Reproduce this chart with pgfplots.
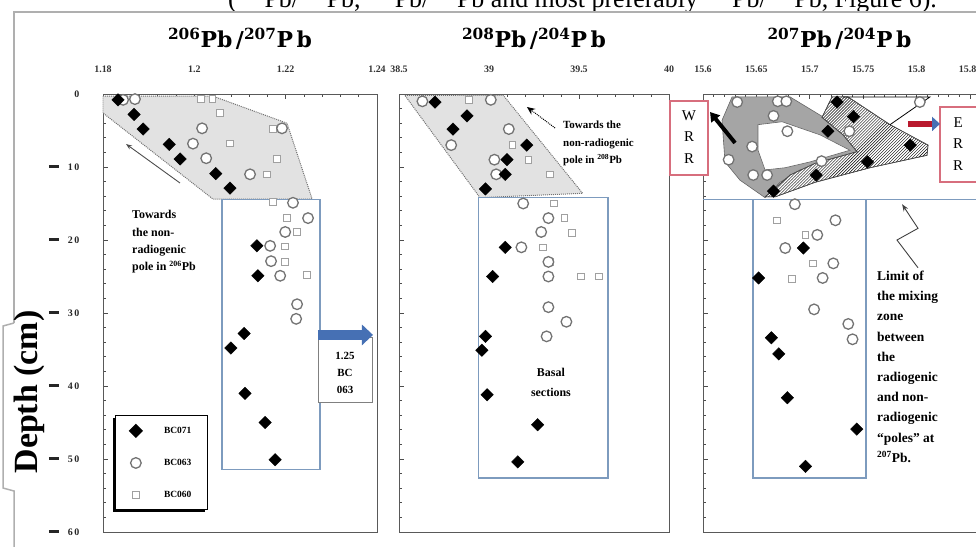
\documentclass[border=0pt]{standalone}
\usepackage{fontspec}
\setmainfont{Liberation Serif}
\newfontfamily\titlefont{DejaVu Serif}
\usepackage{pgfplots}
\pgfplotsset{compat=1.18}
\usetikzlibrary{patterns,arrows.meta,shadows}
\definecolor{boxblue}{RGB}{125,155,190}
\definecolor{arrblue}{RGB}{70,112,180}
\definecolor{pinkbox}{RGB}{215,110,125}
\definecolor{arrred}{RGB}{185,25,45}
\definecolor{ring}{RGB}{115,115,115}
\definecolor{sqc}{RGB}{160,160,160}
\definecolor{framec}{RGB}{175,175,175}
\definecolor{shade}{RGB}{226,226,226}
\definecolor{dkshade}{RGB}{165,165,165}
\newcommand\dl[1]{\rule[2bp]{10bp}{3.5bp}\hspace{9bp}#1}
\pgfplotsset{
 panel/.style={
  scale only axis, anchor=north west, height=438bp,
  y dir=reverse, ymin=0, ymax=60, ytick={0,10,...,60}, minor y tick num=4,
  minor x tick num=4,
  axis line style={black!65, line width=1pt},
  tick align=inside, xtick pos=upper, xticklabel pos=upper, ytick pos=left,
  major tick length=5bp, minor tick length=3bp,
  every tick/.style={black!70, line width=0.7pt},
  /pgf/number format/assume math mode=true,
  /pgf/number format/fixed,
  xticklabel style={font=\fontsize{10}{11}\selectfont\bfseries, text=black!80, yshift=18bp},
  title style={font=\titlefont\fontsize{22}{24}\selectfont\bfseries, anchor=base, at={(0.5,1)}, yshift=41bp},
  clip=false,
 },
 s71/.style={only marks, mark=square*, mark size=4.4bp, mark options={rotate=45, fill=black, draw=black}},
 s63/.style={only marks, mark=*, mark size=5.3bp, mark options={fill=white, draw=ring, line width=1.3pt}},
 s60/.style={only marks, mark=square*, mark size=3.3bp, mark options={fill=white, draw=sqc, line width=0.9pt}},
}
\begin{document}
\begin{tikzpicture}
\useasboundingbox (0,0) rectangle (976bp,-547bp);
\clip (0,0) rectangle (976bp,-547bp);
% cut-off line of text above the figure (as in the reference)
\node[anchor=base west, inner sep=0, font=\fontsize{26}{28}\selectfont] at (228bp,-7bp)
 {(\textsuperscript{206}Pb/\textsuperscript{207}Pb, \textsuperscript{208}Pb/\textsuperscript{204}Pb and most preferably \textsuperscript{207}Pb/\textsuperscript{204}Pb, Figure 6).};
% frame
\draw[framec, line width=1.5bp] (14bp,-323bp) -- (14bp,-12bp) -- (990bp,-12bp);
\draw[framec, line width=1.5bp] (14bp,-560bp) -- (14bp,-491bp) -- (3bp,-488bp) -- (3bp,-326bp) -- (14bp,-323bp);
\node[rotate=90, anchor=base, inner sep=0, font=\fontsize{34}{36}\selectfont\bfseries] at (37bp,-392bp) {Depth (cm)};

% ---------------- panel 1 ----------------
\begin{axis}[panel, at={(103bp,-94bp)}, width=274bp,
  xmin=1.18, xmax=1.24, xtick={1.18,1.2,1.22,1.24},
  yticklabels={0,\dl{1\,0},\dl{2\,0},\dl{3\,0},\dl{4\,0},\dl{5\,0},\dl{6\,0}},
  yticklabel style={font=\fontsize{10}{11}\selectfont\bfseries, text=black!85, xshift=-20bp},
  title={\textsuperscript{206}Pb\,/\textsuperscript{207}P\,b},
  reverse legend, legend cell align=left,
  legend style={at={(axis cs:1.18263,43.97)}, anchor=north west, draw=black, line width=1.3pt,
    fill=white, font=\fontsize{9.5}{10}\selectfont\bfseries, row sep=20bp,
    inner xsep=14bp, inner ysep=9bp,
    drop shadow={shadow xshift=-2.5bp, shadow yshift=-2.5bp, fill=black, opacity=1},
    /tikz/every odd column/.append style={column sep=20bp}},
]
\addplot[forget plot, fill=shade, draw=black!55, densely dotted, line width=1pt]
  coordinates {(1.18,0.3)(1.2041,0.3)(1.2203,4)(1.2258,14.4)(1.2041,14.4)(1.18,2.6)} -- cycle;
\addplot[forget plot, draw=boxblue, line width=1.1pt, fill=white]
  coordinates {(1.20606,14.4)(1.22752,14.4)(1.22752,51.4)(1.20606,51.4)} -- cycle;
\addplot[s60] coordinates {(1.2015,0.7)(1.2040,0.7)(1.2056,2.6)(1.2172,4.8)(1.2078,6.8)(1.2181,8.9)(1.2159,11.0)(1.2172,14.8)(1.2203,17.0)(1.2225,18.9)(1.2199,20.9)(1.2199,23.0)(1.2247,24.8)};
\addlegendentry{BC060}
\addplot[s63] coordinates {(1.1844,0.8)(1.1870,0.7)(1.2017,4.7)(1.1997,6.8)(1.2026,8.8)(1.2122,11.0)(1.2192,4.7)(1.2216,14.9)(1.2249,17.0)(1.2199,18.9)(1.2166,20.8)(1.2168,22.9)(1.2188,24.9)(1.2225,28.8)(1.2223,30.8)};
\addlegendentry{BC063}
\addplot[s71] coordinates {(1.1833,0.8)(1.1868,2.8)(1.1888,4.8)(1.1945,6.9)(1.1969,8.9)(1.2047,10.9)(1.2078,12.9)(1.2137,20.8)(1.2139,24.9)(1.2109,32.8)(1.2080,34.8)(1.2111,41.0)(1.2155,45.0)(1.2177,50.1)};
\addlegendentry{BC071}
\node[anchor=north west, align=left, inner sep=0, font=\fontsize{12}{17.5}\selectfont\bfseries]
  at (axis cs:1.18635,15.9) {Towards\\the non-\\radiogenic\\pole in \textsuperscript{206}Pb};
\draw[-{Stealth[length=6bp]}, black!70, line width=0.9pt] (axis cs:1.19686,12.19) -- (axis cs:1.18504,6.85);
\draw[black!50, line width=0.8pt, fill=white] (axis cs:1.22708,33.4) rectangle (axis cs:1.23890,42.2);
\draw[arrblue, line width=10bp, -{Triangle[length=11bp,width=20bp]}] (axis cs:1.22708,33.0) -- (axis cs:1.23912,33.0);
\node[align=center, font=\fontsize{11}{17.5}\selectfont\bfseries] at (axis cs:1.2330,38.2) {1.25\\BC\\063};
\end{axis}

% ---------------- panel 2 ----------------
\begin{axis}[panel, at={(399bp,-94bp)}, width=270bp,
  xmin=38.5, xmax=40, xtick={38.5,39,39.5,40}, yticklabels={},
  title={\textsuperscript{208}Pb\,/\textsuperscript{204}P\,b},
]
\addplot[forget plot, fill=shade, draw=black!55, densely dotted, line width=1pt]
  coordinates {(38.533,0.2)(39.08,0.2)(39.52,13.6)(38.95,14.2)} -- cycle;
\addplot[forget plot, draw=boxblue, line width=1.1pt, fill=white]
  coordinates {(38.944,14.2)(39.661,14.2)(39.661,52.6)(38.944,52.6)} -- cycle;
\addplot[s60] coordinates {(38.89,0.8)(39.13,7.0)(39.22,9.0)(39.34,11.0)(39.36,15.0)(39.42,17.0)(39.46,19.0)(39.30,21.0)(39.34,23.0)(39.51,25.0)(39.61,25.0)};
\addplot[s63] coordinates {(38.63,1.0)(39.01,0.8)(39.11,4.8)(38.79,7.0)(39.03,9.0)(39.04,11.0)(39.19,15.0)(39.33,17.0)(39.29,18.9)(39.18,21.0)(39.33,23.0)(39.33,25.0)(39.33,29.2)(39.43,31.2)(39.32,33.2)};
\addplot[s71] coordinates {(38.70,1.1)(38.878,3.0)(38.80,4.8)(39.21,7.0)(39.10,9.0)(39.09,11.0)(38.98,13.0)(39.09,21.0)(39.02,25.0)(38.98,33.2)(38.96,35.1)(38.99,41.2)(39.27,45.3)(39.16,50.4)};
\node[anchor=north west, align=left, inner sep=0, font=\fontsize{11}{17.5}\selectfont\bfseries]
  at (axis cs:39.411,3.7) {Towards the\\non-radiogenic\\pole in \textsuperscript{208}Pb};
\draw[densely dotted, line width=1pt, -{Stealth[length=8bp,width=7bp]}] (axis cs:39.367,4.66) -- (axis cs:39.211,1.78);
\node[align=center, font=\fontsize{12}{20}\selectfont\bfseries] at (axis cs:39.344,39.45) {Basal\\sections};
\end{axis}

% ---------------- panel 3 ----------------
\begin{axis}[panel, at={(703bp,-94bp)}, width=273bp,
  xmin=15.6, xmax=15.8556, xtick={15.6,15.65,15.7,15.75,15.8,15.85}, yticklabels={},
  title={\textsuperscript{207}Pb\,/\textsuperscript{204}P\,b},
]
\addplot[forget plot, fill=dkshade, draw=black!60, line width=0.6pt]
  coordinates {(15.6272,0.4)(15.6815,0.4)(15.7142,3.3)(15.7423,5.6)(15.7470,7.7)(15.7283,9.0)(15.6908,10.4)(15.6721,12.1)(15.6581,14.2)(15.6346,11.8)(15.6206,9.3)(15.6178,3.6)} -- cycle;
\addplot[forget plot, fill=white, draw=black!60, line width=0.6pt]
  coordinates {(15.6515,4.2)(15.6740,3.8)(15.7096,5.6)(15.7376,7.7)(15.7002,9.3)(15.6768,10.1)(15.6581,10.4)(15.6515,7.7)} -- cycle;
\addplot[forget plot, fill=white, postaction={pattern=north east lines}, draw=black!70, line width=0.6pt]
  coordinates {(15.7208,0.4)(15.7358,0.4)(15.7751,4.2)(15.8107,7.0)(15.8097,8.4)(15.7564,10.1)(15.7049,12.1)(15.6674,14.1)(15.6581,14.1)(15.6815,11.1)(15.7049,9.5)(15.7442,7.9)(15.7311,5.6)(15.7114,3.2)} -- cycle;
\addplot[forget plot, black, line width=0.8pt] coordinates {(15.7311,0.4)(15.8125,0.4)(15.7751,4.2)};
\addplot[forget plot, boxblue, line width=1.1pt] coordinates {(15.6,14.4)(15.8556,14.4)};
\addplot[forget plot, draw=boxblue, line width=1.1pt, fill=white]
  coordinates {(15.6468,14.4)(15.7526,14.4)(15.7526,52.6)(15.6468,52.6)} -- cycle;
\addplot[s60] coordinates {(15.669,17.3)(15.696,19.3)(15.703,23.2)(15.683,25.3)};
\addplot[s63] coordinates {(15.632,1.1)(15.670,1.0)(15.678,1.0)(15.803,1.1)(15.666,3.0)(15.679,5.1)(15.737,5.1)(15.646,7.2)(15.624,9.0)(15.711,9.2)(15.647,11.1)(15.660,11.1)(15.686,15.1)(15.724,17.3)(15.707,19.3)(15.677,21.1)(15.722,23.2)(15.712,25.2)(15.704,29.5)(15.736,31.5)(15.740,33.6)};
\addplot[s71] coordinates {(15.7255,1.1)(15.741,3.1)(15.717,5.1)(15.794,7.0)(15.754,9.3)(15.706,11.1)(15.666,13.3)(15.694,21.1)(15.652,25.2)(15.664,33.4)(15.671,35.6)(15.679,41.6)(15.744,45.9)(15.696,51.0)};
\draw[pinkbox, line width=1.2pt, fill=white] (axis cs:15.5691,0.96) rectangle (axis cs:15.6047,11.1);
\node[align=center, font=\fontsize{15}{21.5}\selectfont] at (axis cs:15.5869,5.9) {W\\R\\R};
\draw[pinkbox, line width=1.2pt, fill=white] (axis cs:15.8219,1.78) rectangle (axis cs:15.875,12.05);
\node[align=center, font=\fontsize{15}{21.5}\selectfont] at (axis cs:15.8388,6.85) {E\\R\\R};
\draw[black, line width=4bp, -{Triangle[length=9bp,width=11bp]}] (axis cs:15.630,6.7) -- (axis cs:15.6066,2.47);
\draw[arrred, line width=6bp, -{Triangle[length=8bp,width=14bp,color=arrblue]}] (axis cs:15.7919,4.1) -- (axis cs:15.8219,4.1);
\draw[black!75, line width=0.9pt, -{Stealth[length=7bp]}] (axis cs:15.8013,23.8) -- (axis cs:15.7816,20.0) -- (axis cs:15.8013,18.4) -- (axis cs:15.7864,15.1);
\node[anchor=north west, align=left, inner sep=0, font=\fontsize{13.5}{20.3}\selectfont\bfseries]
  at (axis cs:15.7629,24.2) {Limit of\\the mixing\\zone\\between\\the\\radiogenic\\and non-\\radiogenic\\``poles'' at\\\textsuperscript{207}Pb.};
\end{axis}
\end{tikzpicture}
\end{document}
